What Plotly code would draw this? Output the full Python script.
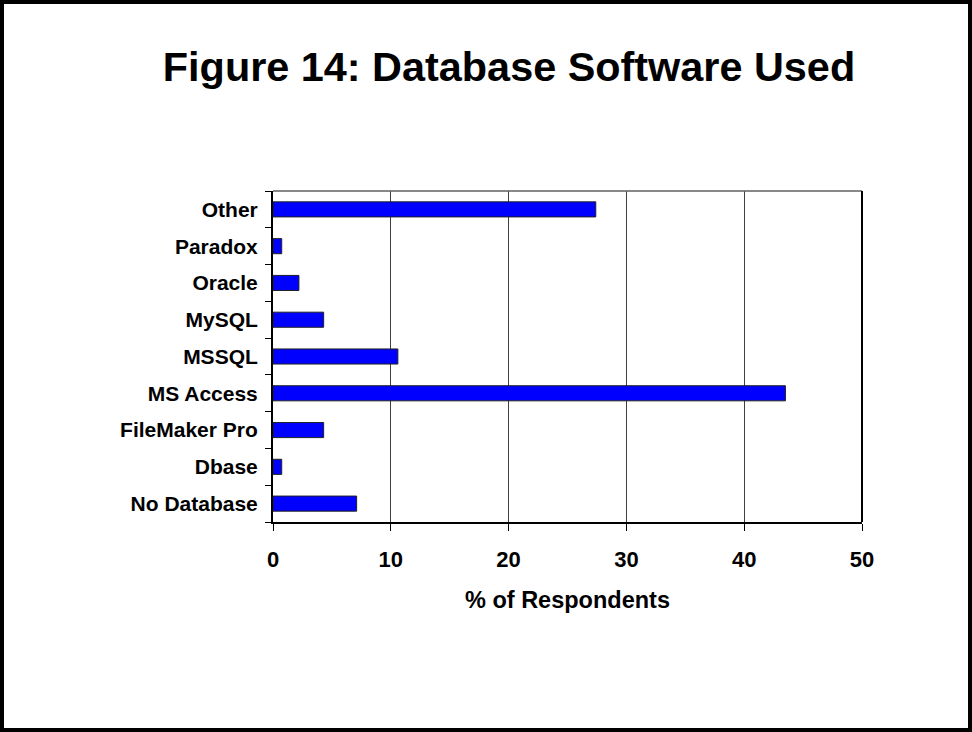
import plotly.graph_objects as go

categories = ["No Database", "Dbase", "FileMaker Pro", "MS Access", "MSSQL",
              "MySQL", "Oracle", "Paradox", "Other"]
values = [7.1, 0.74, 4.3, 43.5, 10.6, 4.3, 2.2, 0.74, 27.4]
x_ticks = [0, 10, 20, 30, 40, 50]

W, H = 972, 732
L, R, T, B = 273, 110, 191, 210
pw, ph = W - L - R, H - T - B

fig = go.Figure(go.Bar(
    x=values, y=categories, orientation="h",
    marker=dict(color="#0000FF", line=dict(color="#202020", width=1)),
    width=0.41,
))

font = "Liberation Sans, Arial, sans-serif"
fig.update_layout(
    width=W, height=H,
    margin=dict(l=L, r=R, t=T, b=B),
    paper_bgcolor="white", plot_bgcolor="white",
    showlegend=False,
    font=dict(family=font, color="black"),
    title=dict(text="<b>Figure 14: Database Software Used</b>",
               x=509 / W, xanchor="center", y=1 - 67 / H, yanchor="middle",
               font=dict(size=41.4, family=font, color="black")),
    xaxis=dict(range=[0, 50], tickvals=x_ticks, ticktext=[f"<b>{v}</b>" for v in x_ticks],
               showgrid=True, gridcolor="#404040", gridwidth=1,
               showline=True, linecolor="black", linewidth=2, mirror=False,
               ticks="outside", ticklen=7, tickcolor="black",
               tickfont=dict(size=22, family=font), zeroline=False,
               ticklabelstandoff=10,
               title=dict(text="<b>% of Respondents</b>", font=dict(size=23.5, family=font),
                          standoff=20)),
    yaxis=dict(tickvals=categories, ticktext=[f"<b>{c}</b>" for c in categories],
               showline=True, linecolor="black", linewidth=2,
               ticks="outside", ticklen=6, tickcolor="black", tickson="boundaries",
               tickfont=dict(size=21, family=font), showgrid=False,
               ticklabelstandoff=9),
    shapes=[
        dict(type="line", xref="paper", yref="paper", x0=0, x1=1, y0=1, y1=1,
             line=dict(color="#606060", width=1.5)),
        dict(type="line", xref="paper", yref="paper", x0=1, x1=1, y0=0, y1=1,
             line=dict(color="black", width=2)),
        dict(type="rect", xref="paper", yref="paper",
             x0=(2 - L) / pw, x1=(W - 2 - L) / pw,
             y0=-(H - 2 - T - ph) / ph, y1=(T - 2) / ph + 1,
             line=dict(color="black", width=4)),
    ],
)

fig.write_html("out.html")
